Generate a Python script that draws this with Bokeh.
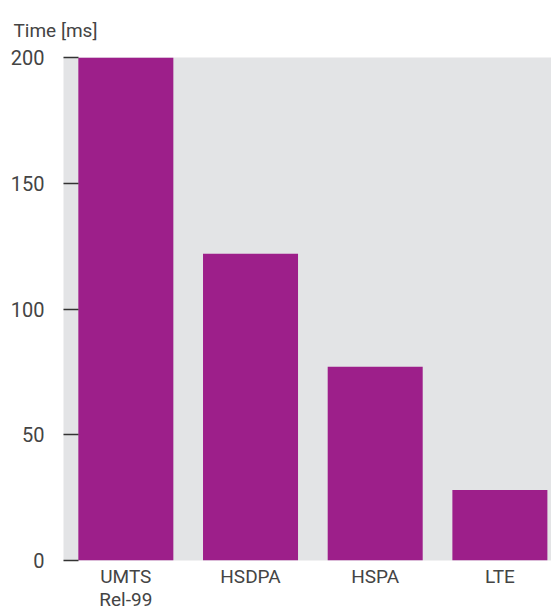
from bokeh.plotting import figure
from bokeh.models import Range1d, FixedTicker
from bokeh.embed import file_html
from bokeh.resources import INLINE

title_text = "Time [ms]"
categories = ["UMTS\nRel-99", "HSDPA", "HSPA", "LTE"]
times_ms = [200, 122, 77, 28]
y_ticks = [0, 50, 100, 150, 200]

xs = list(range(len(categories)))

p = figure(width=551, height=613, output_backend="svg", toolbar_location=None,
           x_range=Range1d(-0.5, 3.414), y_range=Range1d(0, 200),
           min_border_left=63, min_border_right=0, min_border_top=57, min_border_bottom=48)
p.vbar(x=xs, top=times_ms, width=0.762, color="#9d1f8a", line_color=None)

p.background_fill_color = "#e3e4e6"
p.border_fill_color = "white"
p.outline_line_color = None
p.grid.visible = False

p.title.text = title_text
p.title.text_font = "Roboto"
p.title.text_font_style = "normal"
p.title.text_font_size = "19px"
p.title.text_color = "#444444"
p.title.offset = -50
p.title.standoff = 27
p.title.vertical_align = "top"

ya = p.yaxis[0]
ya.ticker = FixedTicker(ticks=y_ticks)
ya.axis_line_color = None
ya.major_tick_in = 15
ya.major_tick_out = 0
ya.major_tick_line_color = "#333333"
ya.major_tick_line_width = 1.5
ya.minor_tick_line_color = None
ya.major_label_text_font = "Roboto"
ya.major_label_text_font_size = "20px"
ya.major_label_text_color = "#444444"
ya.major_label_standoff = 19

xa = p.xaxis[0]
xa.ticker = FixedTicker(ticks=xs)
xa.major_label_overrides = {i: c for i, c in zip(xs, categories)}
xa.axis_line_color = None
xa.major_tick_line_color = None
xa.major_tick_in = 0
xa.major_tick_out = 0
xa.minor_tick_line_color = None
xa.major_label_text_font = "Roboto"
xa.major_label_text_font_size = "19px"
xa.major_label_text_color = "#444444"
xa.major_label_text_line_height = 1.0
xa.major_label_standoff = 4

open("out.html", "w").write(file_html(p, INLINE))
